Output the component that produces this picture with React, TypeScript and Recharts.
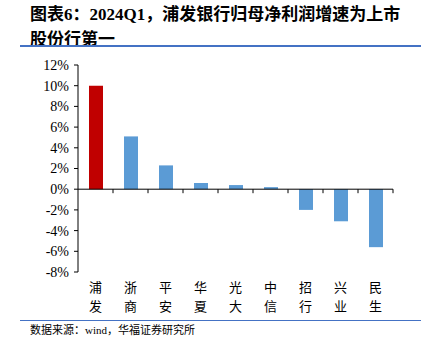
import React from "react";
import { BarChart, Bar, XAxis, YAxis, Cell, ReferenceLine } from "recharts";

const banks = ["浦发", "浙商", "平安", "华夏", "光大", "中信", "招行", "兴业", "民生"];
const growth = [10.0, 5.1, 2.3, 0.6, 0.4, 0.2, -2.0, -3.1, -5.6];
const yTicks = [-8, -6, -4, -2, 0, 2, 4, 6, 8, 10, 12];

const HIGHLIGHT = "#C00000";
const BLUE = "#5B9BD5";
const SERIF = '"Liberation Serif", "Times New Roman", serif';
const CJK = '"Liberation Serif", "Noto Sans CJK SC", sans-serif';

const data = banks.map((name, i) => ({ name, value: growth[i] }));

// category names are written top to bottom, one character per row
function BankTick(props: any) {
  const { x, y, payload } = props;
  const chars = String(payload.value).split("");
  return (
    <text
      x={x}
      y={y + 12}
      textAnchor="middle"
      fontSize={13}
      fontFamily='"Noto Sans CJK SC", sans-serif'
      fill="#000"
    >
      {chars.map((c, i) => (
        <tspan key={i} x={x} dy={i === 0 ? 0 : 19}>
          {c}
        </tspan>
      ))}
    </text>
  );
}

// zero axis line plus a small tick at the right edge of each category
function ZeroAxis(props: any) {
  const { x1, y1, x2 } = props;
  const step = (x2 - x1) / banks.length;
  return (
    <g>
      <line x1={x1} y1={y1} x2={x2} y2={y1} stroke="#000" strokeWidth={1} />
      {banks.map((_, i) => (
        <line
          key={i}
          x1={x1 + step * (i + 1)}
          x2={x1 + step * (i + 1)}
          y1={y1}
          y2={y1 + 4}
          stroke="#000"
          strokeWidth={1}
        />
      ))}
    </g>
  );
}

export default function App() {
  return (
    <div
      style={{
        position: "absolute",
        left: 0,
        top: 0,
        width: 428,
        height: 351,
        background: "#fff",
        overflow: "hidden",
      }}
    >
      <div
        style={{
          position: "absolute",
          left: 30,
          top: 2,
          fontFamily: CJK,
          fontWeight: "bold",
          fontSize: 17,
          lineHeight: "25px",
          color: "#000",
          whiteSpace: "nowrap",
        }}
      >
        图表6：2024Q1，浦发银行归母净利润增速为上市
        <br />
        股份行第一
      </div>
      <div style={{ position: "absolute", left: 20, top: 45, width: 401, height: 2, background: "#4472C4" }} />

      <div style={{ position: "absolute", left: 0, top: 0 }}>
        <BarChart
          width={428}
          height={351}
          data={data}
          margin={{ top: 65, right: 35, bottom: 19, left: 0 }}
          barCategoryGap={0}
          style={{ fontFamily: SERIF }}
        >
          <YAxis
            width={78}
            domain={[-8, 12]}
            ticks={yTicks}
            interval={0}
            tickFormatter={(v: number) => `${v}%`}
            tickSize={4}
            tickMargin={5}
            axisLine={{ stroke: "#000" }}
            tickLine={{ stroke: "#000" }}
            tick={{ fill: "#000", fontSize: 14, fontFamily: SERIF }}
            allowDataOverflow
          />
          <XAxis
            dataKey="name"
            height={60}
            axisLine={false}
            tickLine={false}
            interval={0}
            tick={<BankTick />}
          />
          <Bar dataKey="value" barSize={14} isAnimationActive={false}>
            {data.map((d, i) => (
              <Cell key={d.name} fill={i === 0 ? HIGHLIGHT : BLUE} />
            ))}
          </Bar>
          <ReferenceLine y={0} shape={<ZeroAxis />} ifOverflow="visible" />
        </BarChart>
      </div>

      <div style={{ position: "absolute", left: 20, top: 320, width: 401, height: 1, background: "#4472C4" }} />
      <div
        style={{
          position: "absolute",
          left: 30,
          top: 322,
          fontFamily: '"Liberation Serif", "Noto Sans CJK SC", serif',
          fontSize: 11,
          lineHeight: "16px",
          color: "#000",
          whiteSpace: "nowrap",
        }}
      >
        数据来源：wind，华福证券研究所
      </div>
    </div>
  );
}
